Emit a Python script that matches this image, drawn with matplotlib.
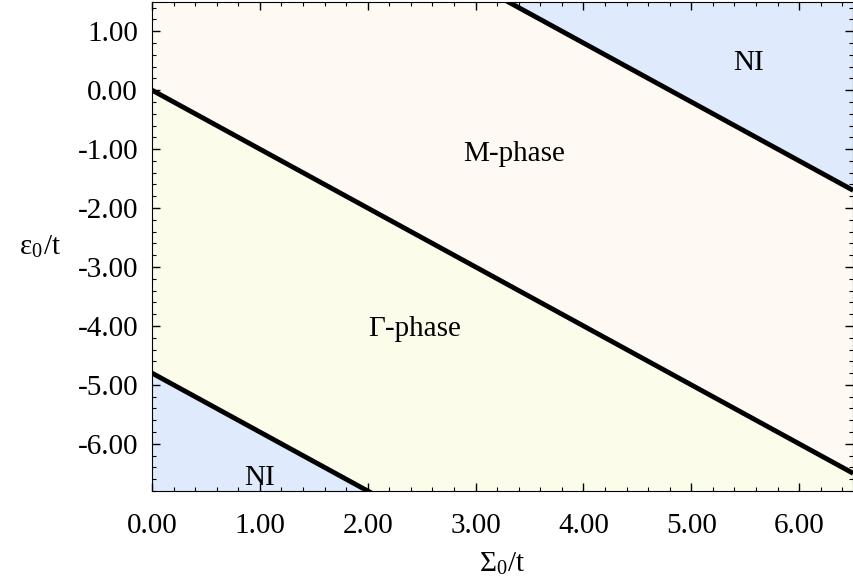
import numpy as np
import matplotlib.pyplot as plt
from matplotlib.ticker import MultipleLocator, FormatStrFormatter

plt.rcParams['font.family'] = ['Liberation Serif', 'DejaVu Serif']
plt.rcParams['mathtext.fontset'] = 'stix'

# -----------------------------
# Data: phase boundaries eps0/t vs Sigma0/t
# -----------------------------
sigma = np.array([0.0, 6.5])
bound_low = np.array([-4.8, -11.3])    # NI / Gamma-phase
bound_mid = np.array([0.0, -6.5])      # Gamma-phase / M-phase
bound_high = np.array([4.8, -1.7])     # M-phase / NI

labels = ["M-phase", "Γ-phase", "NI", "NI"]
label_x = [3.36, 2.43, 5.53, 1.0]
label_y = [-1.08, -4.06, 0.46, -6.58]

c_ni = "#dfeafc"
c_m = "#fefaf3"
c_g = "#fbfdea"

fig = plt.figure(figsize=(8.54, 5.79), dpi=100)
ax = fig.add_axes([0.178, 0.152, 0.821, 0.845])

ymin, ymax = -6.8, 1.5
ax.fill_between(sigma, ymin - 10, bound_low, color=c_ni, lw=0)
ax.fill_between(sigma, bound_low, bound_mid, color=c_g, lw=0)
ax.fill_between(sigma, bound_mid, bound_high, color=c_m, lw=0)
ax.fill_between(sigma, bound_high, ymax + 10, color=c_ni, lw=0)

for b in (bound_low, bound_mid, bound_high):
    ax.plot(sigma, b, color="black", lw=3.5, solid_capstyle="butt")

for t, x, y in zip(labels, label_x, label_y):
    ax.text(x, y, t, fontsize=21, ha="center", va="center")

ax.set_xlim(0, 6.5)
ax.set_ylim(ymin, ymax)

ax.xaxis.set_major_locator(MultipleLocator(1))
ax.xaxis.set_minor_locator(MultipleLocator(0.2))
ax.yaxis.set_major_locator(MultipleLocator(1))
ax.yaxis.set_minor_locator(MultipleLocator(0.2))
ax.xaxis.set_major_formatter(FormatStrFormatter("%.2f"))
ax.yaxis.set_major_formatter(FormatStrFormatter("%.2f"))
ax.tick_params(which="both", direction="in", top=True, right=True, labelsize=21)
ax.tick_params(which="major", length=6, width=1)
ax.tick_params(which="minor", length=3, width=0.8)
ax.tick_params(axis="x", pad=16)
ax.tick_params(axis="y", pad=10)

ax.set_xlabel(r"Σ$_\mathregular{0}$/t", fontsize=21, labelpad=8)
ax.set_ylabel(r"ε$_\mathregular{0}$/t", fontsize=21, rotation=0)
ax.yaxis.set_label_coords(-0.16, 0.5)
ax.yaxis.label.set_va("center")

fig.savefig("out.png", dpi=100)
